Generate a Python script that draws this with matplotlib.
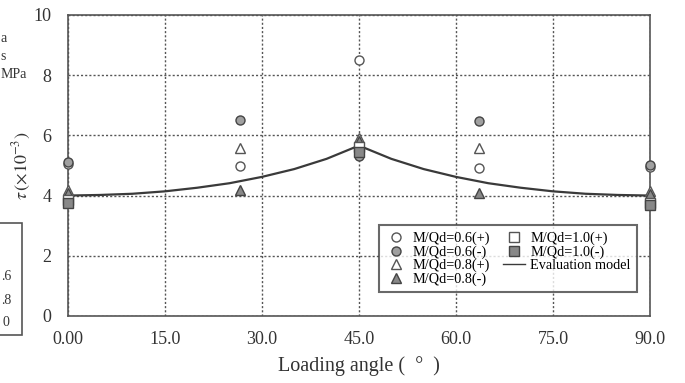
import matplotlib
matplotlib.use("Agg")
import matplotlib.pyplot as plt
from matplotlib.patches import Rectangle

plt.rcParams['font.family'] = ['Liberation Serif', 'DejaVu Serif']
plt.rcParams['mathtext.fontset'] = 'stix'

# ---- data ----
x_ticks = [0, 15, 30, 45, 60, 75, 90]
x_tick_labels = ["0.00", "15.0", "30.0", "45.0", "60.0", "75.0", "90.0"]
y_ticks = [0, 2, 4, 6, 8, 10]

ang5 = [0, 26.6, 45, 63.5, 90]
c06_pos = [5.05, 4.97, 8.5, 4.93, 4.95]
c06_neg = [5.12, 6.5, 5.3, 6.47, 5.02]
c08_pos = [4.2, 5.57, 5.9, 5.57, 4.15]
c08_neg = [4.1, 4.17, 5.8, 4.07, 4.05]

ang3 = [0, 45, 90]
c10_pos = [3.85, 5.6, 3.75]
c10_neg = [3.75, 5.45, 3.68]

model_x = [0, 5, 10, 15, 20, 25, 30, 35, 40, 45, 50, 55, 60, 65, 70, 75, 80, 85, 90]
model_y = [4.0, 4.02, 4.06, 4.14, 4.26, 4.41, 4.62, 4.88, 5.22, 5.66,
           5.22, 4.88, 4.62, 4.41, 4.26, 4.14, 4.06, 4.02, 4.0]

fig = plt.figure(figsize=(6.85, 3.83), dpi=100)
ax = fig.add_axes([0.099, 0.175, 0.850, 0.786])

dark = '#3a3a3a'
ax.plot(model_x, model_y, color=dark, lw=1.6, zorder=3)

ms = 6.5
kw = dict(ls='none', zorder=5, clip_on=False, mew=1.0)
h1, = ax.plot(ang5, c06_pos, 'o', ms=ms, mfc='white', mec='#555555', **kw)
h2, = ax.plot(ang5, c06_neg, 'o', ms=ms, mfc='#a0a0a0', mec='#444444', **kw)
h3, = ax.plot(ang5, c08_pos, '^', ms=ms, mfc='white', mec='#555555', **kw)
h4, = ax.plot(ang5, c08_neg, '^', ms=ms, mfc='#888888', mec='#444444', **kw)
h5, = ax.plot(ang3, c10_pos, 's', ms=ms, mfc='white', mec='#555555', **kw)
h6, = ax.plot(ang3, c10_neg, 's', ms=ms, mfc='#888888', mec='#444444', **kw)
hm, = ax.plot([], [], color=dark, lw=1.0)

ax.set_xlim(0, 90)
ax.set_ylim(0, 10)
ax.set_xticks(x_ticks)
ax.set_xticklabels(x_tick_labels)
ax.set_yticks(y_ticks)
ax.tick_params(length=0, labelsize=13, colors='#333333')
ax.tick_params(axis='x', pad=11)
ax.tick_params(axis='y', pad=12)
ax.grid(True, ls=(0, (1.5, 1.5)), color='#555555', lw=1.0)
for s in ax.spines.values():
    s.set_color('#555555')
    s.set_linewidth(1.2)

ax.set_xlabel('Loading angle (  °  )', fontsize=14.5, color='#333333', labelpad=6)
ax.set_ylabel(r'$\tau\,(\times10^{-3})$', fontsize=13, color='#333333', labelpad=0)

leg = ax.legend([h1, h2, h3, h4, h5, h6, hm],
                ['M/Qd=0.6(+)', 'M/Qd=0.6(-)', 'M/Qd=0.8(+)', 'M/Qd=0.8(-)',
                 'M/Qd=1.0(+)', 'M/Qd=1.0(-)', 'Evaluation model'],
                ncol=2, loc='lower right', bbox_to_anchor=(0.99, 0.055),
                fontsize=10.3, frameon=True, fancybox=False, edgecolor='#444444',
                handlelength=1.5, handletextpad=0.4, labelspacing=0.0,
                columnspacing=0.9, borderpad=0.45)
leg.get_frame().set_linewidth(1.5)

# fragments of the neighbouring figure visible at the left edge
fc = '#333333'
fig.text(0.001, 1 - 38 / 383, 'a', fontsize=10, color=fc, va='center')
fig.text(0.001, 1 - 57 / 383, 's', fontsize=10, color=fc, va='center')
fig.text(0.001, 1 - 75 / 383, 'MPa', fontsize=10, color=fc, va='center')
fig.text(0.001, 1 - 276 / 383, '.6', fontsize=10, color=fc, va='center')
fig.text(0.001, 1 - 300 / 383, '.8', fontsize=10, color=fc, va='center')
fig.text(0.004, 1 - 322 / 383, '0', fontsize=10, color=fc, va='center')
fig.patches.append(Rectangle((-0.05, 1 - 335 / 383), 0.082, 112 / 383,
                             transform=fig.transFigure, fill=False,
                             edgecolor='#555555', lw=1.2))

fig.savefig('out.png', dpi=100)
